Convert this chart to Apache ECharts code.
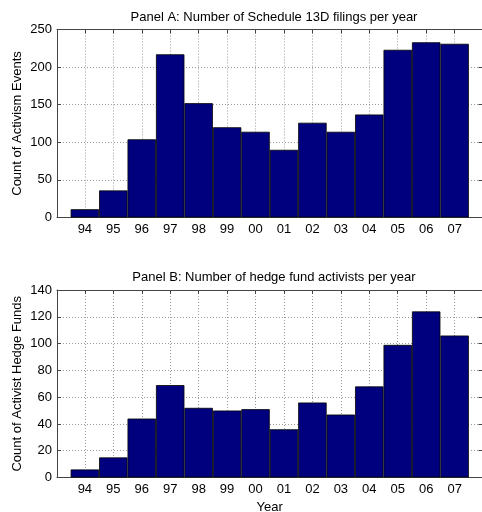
<!DOCTYPE html>
<html>
<head>
<meta charset="utf-8">
<script src="https://cdn.jsdelivr.net/npm/echarts@6/dist/echarts.min.js"></script>
<style>
html,body{margin:0;padding:0;background:#fff;}
#chart{width:482px;height:512px;}
</style>
</head>
<body>
<div id="chart"></div>
<script>
// ---- data ----
var yearLabels = ['94','95','96','97','98','99','00','01','02','03','04','05','06','07'];
var filings13D = [11, 36, 104, 217, 152, 120, 114, 90, 126, 114, 137, 223, 233, 231];
var hedgeFunds = [6, 15, 44, 69, 52, 50, 51, 36, 56, 47, 68, 99, 124, 106];
var panelATicks = [0, 50, 100, 150, 200, 250];
var panelBTicks = [0, 20, 40, 60, 80, 100, 120, 140];
var titleA = 'Panel A: Number of Schedule 13D filings per year';
var titleB = 'Panel B: Number of hedge fund activists per year';
var yNameA = 'Count of Activism Events';
var yNameB = 'Count of Activist Hedge Funds';
var xName = 'Year';

// ---- chart ----
var FONT = '"Liberation Sans", Arial, Helvetica, sans-serif';
var AXIS_COLOR = '#444';
var GRID_COLOR = '#9a9a9a';
var BAR_COLOR = '#00007f';
var xIdx = yearLabels.map(function (_, i) { return i; });
var XMIN = -0.98, XMAX = 13.98;

function pairs(vals) { return vals.map(function (v, i) { return [i, v]; }); }

function xAxes(gridIndex, withName) {
  return [{
    type: 'value', gridIndex: gridIndex, position: 'bottom',
    min: XMIN, max: XMAX,
    name: withName ? xName : '', nameLocation: 'middle', nameGap: 23, nameMoveOverlap: false,
    nameTextStyle: {fontFamily: FONT, fontSize: 13, color: '#000'},
    axisLine: {show: true, onZero: false, lineStyle: {color: AXIS_COLOR, width: 1}},
    axisTick: {show: true, inside: true, length: 4, customValues: xIdx, lineStyle: {color: AXIS_COLOR}},
    axisLabel: {show: true, customValues: xIdx, margin: 5, fontFamily: FONT, fontSize: 13, color: '#000',
      formatter: function (v) { return yearLabels[Math.round(v)]; }},
    splitLine: {show: true, lineStyle: {color: GRID_COLOR, type: [1, 2], width: 1}}
  }, {
    type: 'value', gridIndex: gridIndex, position: 'top',
    min: XMIN, max: XMAX,
    axisLine: {show: true, onZero: false, lineStyle: {color: AXIS_COLOR, width: 1}},
    axisTick: {show: true, inside: true, length: 4, customValues: xIdx, lineStyle: {color: AXIS_COLOR}},
    axisLabel: {show: false},
    splitLine: {show: false}
  }];
}

function yAxes(gridIndex, ticks, name) {
  var mx = ticks[ticks.length - 1];
  var iv = ticks[1] - ticks[0];
  return [{
    type: 'value', gridIndex: gridIndex, position: 'left',
    min: 0, max: mx, interval: iv,
    name: name, nameLocation: 'middle', nameGap: 33, nameRotate: 90, nameMoveOverlap: false,
    nameTextStyle: {fontFamily: FONT, fontSize: 13, color: '#000'},
    axisLine: {show: true, onZero: false, lineStyle: {color: AXIS_COLOR, width: 1}},
    axisTick: {show: true, inside: true, length: 4, lineStyle: {color: AXIS_COLOR}},
    axisLabel: {show: true, margin: 5, fontFamily: FONT, fontSize: 13, color: '#000'},
    splitLine: {show: true, lineStyle: {color: GRID_COLOR, type: [1, 2], width: 1}}
  }, {
    type: 'value', gridIndex: gridIndex, position: 'right',
    min: 0, max: mx, interval: iv,
    axisLine: {show: true, onZero: false, lineStyle: {color: AXIS_COLOR, width: 1}},
    axisTick: {show: true, inside: true, length: 4, lineStyle: {color: AXIS_COLOR}},
    axisLabel: {show: false},
    splitLine: {show: false}
  }];
}

function barSeries(vals, gi) {
  return {
    type: 'bar', xAxisIndex: gi * 2, yAxisIndex: gi * 2,
    data: pairs(vals),
    barWidth: '100%', barCategoryGap: '0%',
    itemStyle: {color: BAR_COLOR, borderColor: '#000', borderWidth: 0.8},
    emphasis: {disabled: true},
    silent: true
  };
}

var chart = echarts.init(document.getElementById('chart'), null, {renderer: 'canvas'});
chart.setOption({
  animation: false,
  backgroundColor: '#fff',
  textStyle: {fontFamily: FONT},
  title: [
    {text: titleA, left: 269, top: 6, textAlign: 'center',
      textStyle: {fontFamily: FONT, fontSize: 13, fontWeight: 'normal', color: '#000'}},
    {text: titleB, left: 269, top: 266, textAlign: 'center',
      textStyle: {fontFamily: FONT, fontSize: 13, fontWeight: 'normal', color: '#000'}}
  ],
  grid: [
    {left: 57, top: 29.5, width: 425.5, height: 188, containLabel: false, outerBoundsMode: 'none'},
    {left: 57, top: 290, width: 425.5, height: 187.5, containLabel: false, outerBoundsMode: 'none'}
  ],
  xAxis: xAxes(0, false).concat(xAxes(1, true)),
  yAxis: yAxes(0, panelATicks, yNameA).concat(yAxes(1, panelBTicks, yNameB)),
  series: [barSeries(filings13D, 0), barSeries(hedgeFunds, 1)]
});
</script>
</body>
</html>
